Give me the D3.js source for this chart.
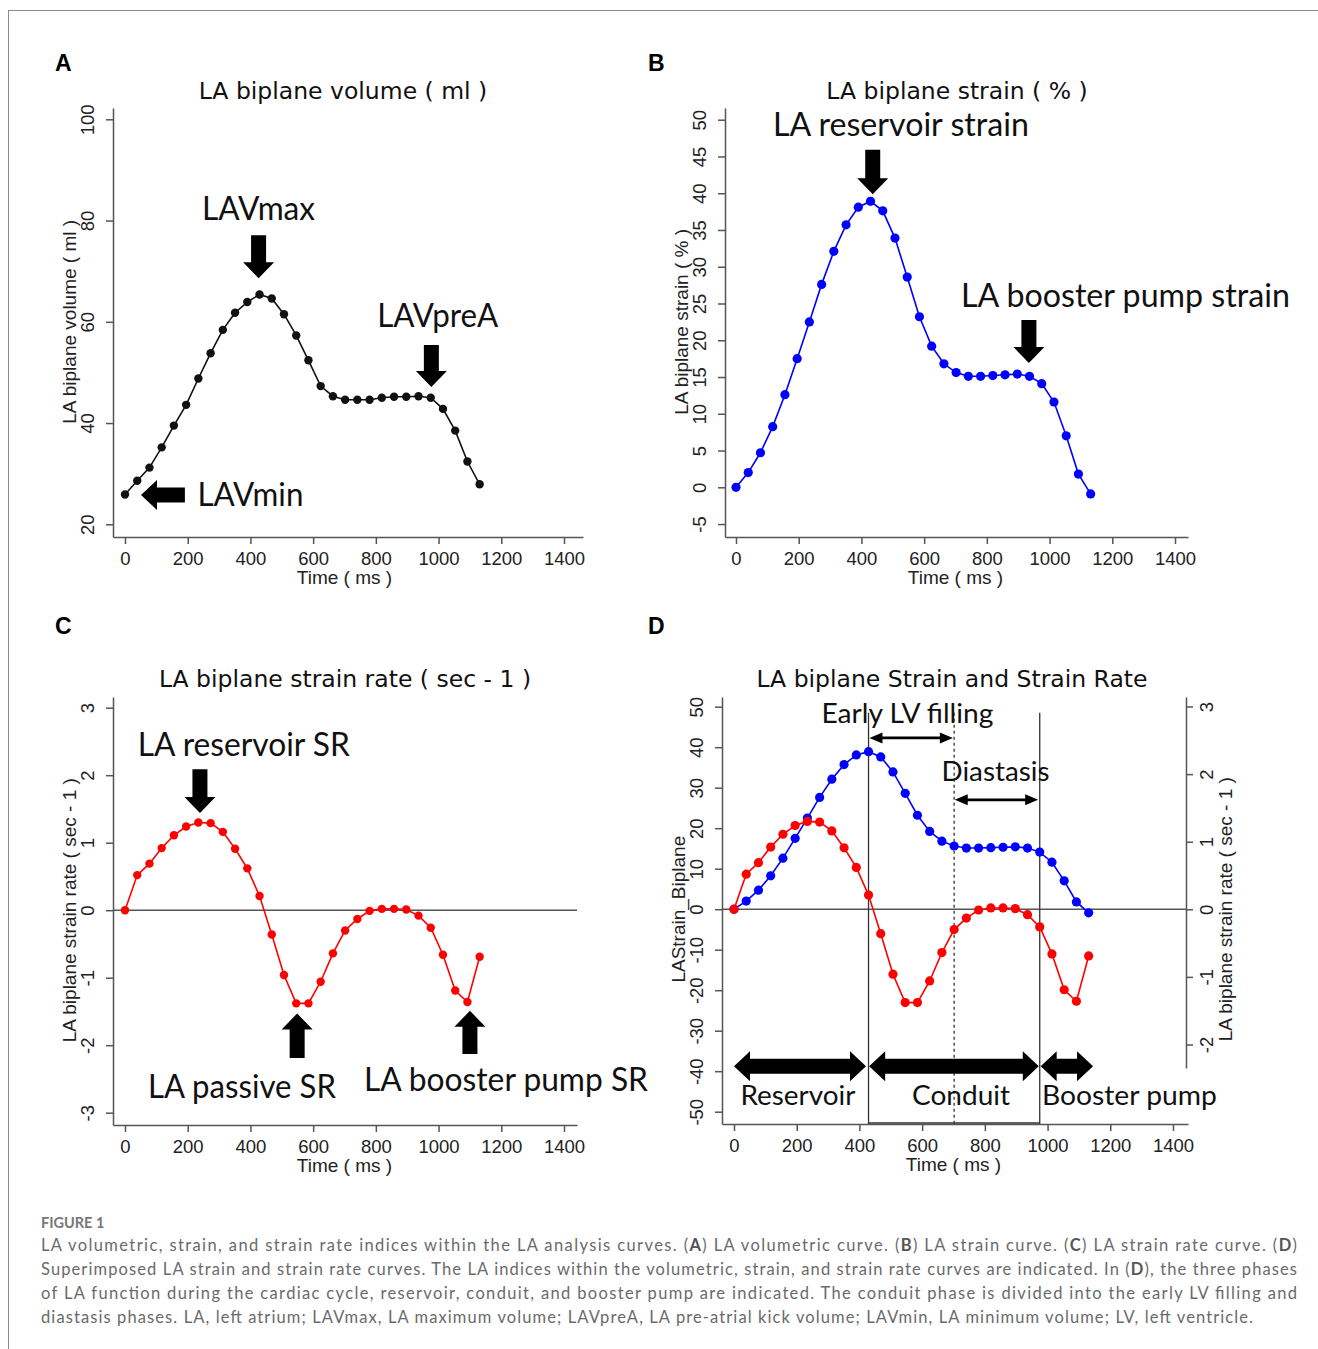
<!DOCTYPE html>
<html>
<head>
<meta charset="utf-8">
<script src="https://cdn.jsdelivr.net/npm/d3@7"></script>
<style>
  body { margin: 0; background: #fff; }
  svg text { font-family: "Liberation Sans", Arial, sans-serif; }
  .axis path, .axis line { stroke: #555; stroke-width: 1.5; fill: none; }
  .axis text { font-size: 18.5px; fill: #222; }
  .axis-title { font-size: 19px; fill: #222; }
  .panel-title { font-family: "DejaVu Sans", sans-serif !important; font-size: 23.5px; fill: #111; }
  .panel-letter { font-size: 23px; font-weight: bold; fill: #000; }
  .note { font-family: Lato, "Open Sans", sans-serif !important; fill: #111; }
  .caption { font-family: Lato, "Open Sans", sans-serif !important; fill: #6a6a6a; font-size: 16.5px; }
</style>
</head>
<body>
<svg id="fig" width="1318" height="1349"></svg>
<script>
// sample times (ms) shared by all four curves
const timeMs = [0, 39, 78, 117, 156, 195, 234, 273, 312, 351, 390, 429, 468, 507, 546,
  585, 624, 663, 702, 741, 780, 819, 858, 897, 936, 975, 1014, 1053, 1092, 1131];

const volumeMl = [25.9, 28.6, 31.2, 35.2, 39.5, 43.6, 48.8, 53.8, 58.4, 61.8, 63.9, 65.4, 64.6, 61.5, 57.3,
  52.4, 47.3, 45.3, 44.6, 44.6, 44.6, 45.0, 45.2, 45.2, 45.3, 45.0, 42.8, 38.5, 32.4, 27.9];

const strainPct = [0, 2.0, 4.7, 8.25, 12.6, 17.5, 22.5, 27.6, 32.1, 35.7, 38.1, 38.9, 37.6, 33.9, 28.6,
  23.2, 19.2, 16.8, 15.6, 15.1, 15.1, 15.2, 15.3, 15.4, 15.1, 14.1, 11.6, 7.0, 1.8, -0.9];

const strainRate = [0, 0.52, 0.69, 0.92, 1.11, 1.24, 1.30, 1.29, 1.16, 0.91, 0.62, 0.21, -0.36, -0.96, -1.38,
  -1.38, -1.06, -0.64, -0.30, -0.13, -0.01, 0.02, 0.02, 0.01, -0.08, -0.26, -0.66, -1.19, -1.36, -0.69];

const timeTicks = [0, 200, 400, 600, 800, 1000, 1200, 1400];
const volumeTicks = [20, 40, 60, 80, 100];
const strainTicks = [-5, 0, 5, 10, 15, 20, 25, 30, 35, 40, 45, 50];
const rateTicks = [-3, -2, -1, 0, 1, 2, 3];
const overlayStrainTicks = [-50, -40, -30, -20, -10, 0, 10, 20, 30, 40, 50];
const overlayRateTicks = [-2, -1, 0, 1, 2, 3];

const captionHead = "FIGURE 1";
const captionLines = [
  "LA volumetric, strain, and strain rate indices within the LA analysis curves. (A) LA volumetric curve. (B) LA strain curve. (C) LA strain rate curve. (D)",
  "Superimposed LA strain and strain rate curves. The LA indices within the volumetric, strain, and strain rate curves are indicated. In (D), the three phases",
  "of LA function during the cardiac cycle, reservoir, conduit, and booster pump are indicated. The conduit phase is divided into the early LV filling and",
  "diastasis phases. LA, left atrium; LAVmax, LA maximum volume; LAVpreA, LA pre-atrial kick volume; LAVmin, LA minimum volume; LV, left ventricle."
];

const svg = d3.select("#fig");
const plain = d => String(d);

// scale through two known points, stretched to the axis line extent
function axisScale(v0, p0, v1, p1, start, end) {
  const s = d3.scaleLinear().domain([v0, v1]).range([p0, p1]);
  return d3.scaleLinear().domain([s.invert(start), s.invert(end)]).range([start, end]);
}

function arrowPath(x1, y1, x2, y2, shaft, headLen, headW, both) {
  const L = Math.hypot(x2 - x1, y2 - y1);
  const ux = (x2 - x1) / L, uy = (y2 - y1) / L;
  const pt = (s, n) => [x1 + ux * s - uy * n, y1 + uy * s + ux * n];
  const hs = shaft / 2, hh = headW / 2;
  const pts = both
    ? [pt(0, 0), pt(headLen, hh), pt(headLen, hs), pt(L - headLen, hs), pt(L - headLen, hh), pt(L, 0),
       pt(L - headLen, -hh), pt(L - headLen, -hs), pt(headLen, -hs), pt(headLen, -hh)]
    : [pt(0, hs), pt(L - headLen, hs), pt(L - headLen, hh), pt(L, 0), pt(L - headLen, -hh), pt(L - headLen, -hs), pt(0, -hs)];
  return "M" + pts.map(p => p.map(v => v.toFixed(2)).join(",")).join("L") + "Z";
}

function note(g, x, y, text, size, width) {
  g.append("text")
    .attr("class", "note")
    .attr("x", x)
    .attr("y", y)
    .attr("text-anchor", "middle")
    .attr("textLength", width)
    .attr("lengthAdjust", "spacingAndGlyphs")
    .style("font-size", size + "px")
    .text(text);
}

function drawSeries(g, x, y, values, color, r) {
  const rows = timeMs.map((t, i) => ({ t, v: values[i] }));
  g.append("path")
    .datum(rows)
    .attr("fill", "none")
    .attr("stroke", color)
    .attr("stroke-width", 1.6)
    .attr("d", d3.line().x(d => x(d.t)).y(d => y(d.v)));
  g.selectAll(null)
    .data(rows)
    .enter()
    .append("circle")
    .attr("cx", d => x(d.t))
    .attr("cy", d => y(d.v))
    .attr("r", r)
    .attr("fill", color);
}

function drawAxes(g, x, y, yTicks, yTitle, titleY) {
  const bottom = y.range()[0];
  const left = x.range()[0];

  g.append("g")
    .attr("class", "axis")
    .attr("transform", `translate(0,${bottom})`)
    .call(d3.axisBottom(x).tickValues(timeTicks).tickFormat(plain)
      .tickSize(7).tickSizeOuter(0).tickPadding(8));

  const ya = g.append("g")
    .attr("class", "axis")
    .attr("transform", `translate(${left},0)`)
    .call(d3.axisLeft(y).tickValues(yTicks).tickFormat(plain).tickSize(7).tickSizeOuter(0));
  ya.selectAll(".tick text")
    .attr("x", 0)
    .attr("dy", null)
    .attr("text-anchor", "middle")
    .attr("transform", "translate(-19,0) rotate(-90)");

  g.append("text")
    .attr("class", "axis-title")
    .attr("x", x(700))
    .attr("y", bottom + 47)
    .attr("text-anchor", "middle")
    .text("Time ( ms )");

  g.append("text")
    .attr("class", "axis-title")
    .attr("text-anchor", "middle")
    .attr("transform", `translate(${left - 37},${titleY}) rotate(-90)`)
    .text(yTitle);
}

function title(g, x, y, text) {
  g.append("text").attr("class", "panel-title").attr("x", x).attr("y", y)
    .attr("text-anchor", "middle").text(text);
}

function letter(x, y, text) {
  svg.append("text").attr("class", "panel-letter").attr("x", x).attr("y", y).text(text);
}

function blockDown(g, x, y, t, vFrom, vTo) {
  g.append("path").attr("fill", "#000")
    .attr("d", arrowPath(x(t), y(vFrom), x(t), y(vTo), 15, 16, 31, false));
}

// frame
svg.append("line").attr("x1", 8).attr("x2", 1318).attr("y1", 10.5).attr("y2", 10.5).attr("stroke", "#8a8a8a");
svg.append("line").attr("x1", 8.5).attr("x2", 8.5).attr("y1", 10).attr("y2", 1349).attr("stroke", "#8a8a8a");

// ---- A: volume
{
  const g = svg.append("g");
  const x = axisScale(0, 125, 1400, 564, 113, 583);
  const y = axisScale(20, 524.3, 100, 119.3, 537, 108);
  drawAxes(g, x, y, volumeTicks, "LA biplane volume ( ml )", y(60));
  drawSeries(g, x, y, volumeMl, "#111", 4.2);
  title(g, 343, 98.5, "LA biplane volume ( ml )");
  note(g, x(426), y(80.1), "LAVmax", 32, 113);
  note(g, x(997), y(59.0), "LAVpreA", 32, 121);
  note(g, x(400), y(23.6), "LAVmin", 32, 106);
  blockDown(g, x, y, 426, 77.1, 68.6);
  blockDown(g, x, y, 977, 55.4, 47.1);
  g.append("path").attr("fill", "#000")
    .attr("d", arrowPath(x(191), y(25.8), x(51), y(25.8), 15, 16, 30, false));
}

// ---- B: strain
{
  const g = svg.append("g");
  const x = axisScale(0, 736, 1400, 1175, 725, 1188);
  const y = axisScale(0, 487.3, 50, 119.7, 537, 108);
  drawAxes(g, x, y, strainTicks, "LA biplane strain ( % )", y(22.5));
  drawSeries(g, x, y, strainPct, "#0000ff", 4.6);
  title(g, 957, 98.5, "LA biplane strain ( % )");
  note(g, x(526), y(47.8), "LA reservoir strain", 32, 256);
  note(g, x(1242), y(24.5), "LA booster pump strain", 32, 329);
  blockDown(g, x, y, 436, 45.9, 39.85);
  blockDown(g, x, y, 934, 22.75, 16.9);
}

// ---- C: strain rate
{
  const g = svg.append("g");
  const x = axisScale(0, 125, 1400, 564, 113, 577);
  const y = axisScale(-3, 1112.7, 3, 707.7, 1125, 697);
  drawAxes(g, x, y, rateTicks, "LA biplane strain rate ( sec - 1 )", y(0));
  g.append("line").attr("x1", x.range()[0]).attr("x2", x.range()[1])
    .attr("y1", y(0)).attr("y2", y(0)).attr("stroke", "#555").attr("stroke-width", 1.5);
  drawSeries(g, x, y, strainRate, "#ff0000", 4.2);
  title(g, 345, 687, "LA biplane strain rate ( sec - 1 )");
  note(g, x(379), y(2.28), "LA reservoir SR", 32, 212);
  note(g, x(373), y(-2.78), "LA passive SR", 32, 188);
  note(g, x(1215), y(-2.68), "LA booster pump SR", 32, 284);
  blockDown(g, x, y, 239, 2.09, 1.44);
  blockDown(g, x, y, 549, -2.19, -1.53);
  blockDown(g, x, y, 1100, -2.13, -1.49);
}

// ---- D: overlay
{
  const g = svg.append("g");
  const x = axisScale(0, 734, 1400, 1173, 722, 1188);
  const yL = axisScale(-50, 1111.7, 50, 706.7, 1124, 697);
  const yR = axisScale(-2, 1044.5, 3, 706.5, 1068, 697);
  const rightX = 1186;
  drawAxes(g, x, yL, overlayStrainTicks, "LAStrain_Biplane", yL(0));

  const ra = g.append("g")
    .attr("class", "axis")
    .attr("transform", `translate(${rightX},0)`)
    .call(d3.axisRight(yR).tickValues(overlayRateTicks).tickFormat(plain).tickSize(7).tickSizeOuter(0));
  ra.selectAll(".tick text")
    .attr("x", 0)
    .attr("dy", null)
    .attr("text-anchor", "middle")
    .attr("transform", "translate(27,0) rotate(-90)");
  g.append("text")
    .attr("class", "axis-title")
    .attr("text-anchor", "middle")
    .attr("transform", `translate(${rightX + 46},${yL(0)}) rotate(-90)`)
    .text("LA biplane strain rate ( sec - 1 )");

  g.append("line").attr("x1", x.range()[0]).attr("x2", rightX)
    .attr("y1", yL(0)).attr("y2", yL(0)).attr("stroke", "#555").attr("stroke-width", 1.5);

  // phase boundaries
  const bottom = yL.range()[0];
  [[429, null], [702, "3,3"], [975, null]].forEach(([t, dash]) => {
    g.append("line").attr("x1", x(t)).attr("x2", x(t))
      .attr("y1", yL(48.5)).attr("y2", bottom)
      .attr("stroke", "#333").attr("stroke-width", 1.3)
      .attr("stroke-dasharray", dash);
  });
  g.append("line").attr("x1", x(429)).attr("x2", x(975))
    .attr("y1", bottom - 1).attr("y2", bottom - 1).attr("stroke", "#333").attr("stroke-width", 1.3);

  drawSeries(g, x, yL, strainPct, "#0000ff", 4.6);
  drawSeries(g, x, yR, strainRate, "#ff0000", 4.6);

  title(g, 952, 687, "LA biplane Strain and Strain Rate");

  note(g, x(553), yL(46.0), "Early LV filling", 27, 172);
  note(g, x(834), yL(31.7), "Diastasis", 27, 108);
  note(g, x(204), yL(-48.4), "Reservoir", 27, 115);
  note(g, x(724), yL(-48.4), "Conduit", 27, 98);
  note(g, x(1261), yL(-48.4), "Booster pump", 27, 175);

  [[0, 421], [431, 972], [978, 1145]].forEach(([t1, t2]) => {
    g.append("path").attr("fill", "#000")
      .attr("d", arrowPath(x(t1), yL(-38.8), x(t2), yL(-38.8), 15, 16, 30, true));
  });
  [[432, 42.3, 698], [704, 27, 970]].forEach(([t1, v, t2]) => {
    g.append("path").attr("fill", "#000")
      .attr("d", arrowPath(x(t1), yL(v), x(t2), yL(v), 2.8, 13, 11, true));
  });
}

letter(55, 71, "A");
letter(648, 71, "B");
letter(55, 634, "C");
letter(648, 634, "D");

// caption
svg.append("text")
  .attr("class", "caption")
  .attr("x", 41)
  .attr("y", 1228)
  .style("font-size", "14.5px")
  .style("font-weight", "bold")
  .style("fill", "#777")
  .text(captionHead);

captionLines.forEach((line, i) => {
  const t = svg.append("text")
    .attr("class", "caption")
    .attr("x", 41)
    .attr("y", 1251 + i * 24)
    .attr("textLength", i === captionLines.length - 1 ? 1212 : 1256)
    .attr("lengthAdjust", "spacing");
  line.split(/\(([A-D])\)/).forEach((part, j) => {
    if (j % 2 === 0) {
      t.append("tspan").text(part);
    } else {
      t.append("tspan").text("(");
      t.append("tspan").style("font-weight", "bold").style("fill", "#555").text(part);
      t.append("tspan").text(")");
    }
  });
});
</script>
</body>
</html>
